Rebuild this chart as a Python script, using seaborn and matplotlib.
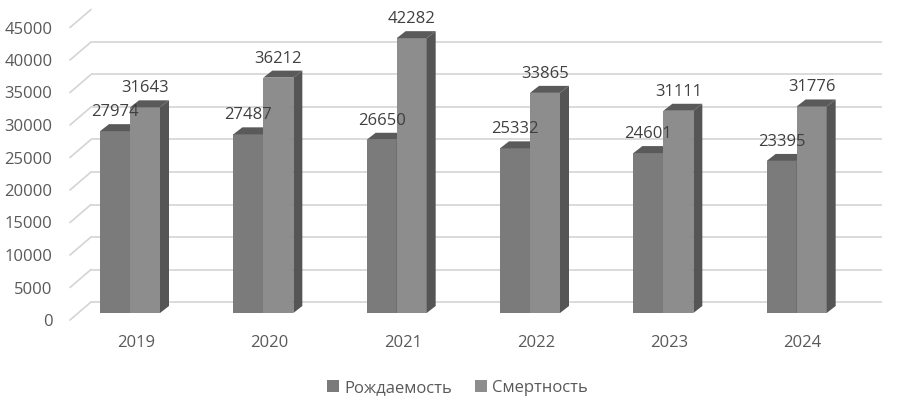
import numpy as np
import pandas as pd
import seaborn as sns
import matplotlib.pyplot as plt
from matplotlib.patches import Polygon, Patch
from matplotlib.lines import Line2D
from matplotlib.transforms import ScaledTranslation, IdentityTransform

years = ['2019', '2020', '2021', '2022', '2023', '2024']
births = [27974, 27487, 26650, 25332, 24601, 23395]
deaths = [31643, 36212, 42282, 33865, 31111, 31776]
series = ['Рождаемость', 'Смертность']
yticks = np.arange(0, 45001, 5000)

front_cols = ['#7b7b7b', '#8d8d8d']
top_col = '#5a5a5a'
side_col = '#555555'
grid_col = '#d4d4d4'
fs = 12

df = pd.DataFrame({
    'year': years * 2,
    'value': births + deaths,
    'series': [series[0]] * len(years) + [series[1]] * len(years),
})

sns.set_theme(style='white')
plt.rcParams['font.family'] = ['Open Sans', 'DejaVu Sans']

W, H = 915, 409
fig = plt.figure(figsize=(W / 100, H / 100), dpi=100)
ax = fig.add_axes([78 / W, 1 - 313 / H, (882 - 78) / W, (313 - 20.5) / H])

sns.barplot(df, x='year', y='value', hue='series', palette=front_cols,
            width=0.45, saturation=1, ax=ax, legend=False, linewidth=0)

xlim = (-0.39, 5.64)
ax.set_xlim(*xlim)
ax.set_ylim(0, 45000)
for s in ax.spines.values():
    s.set_visible(False)
ax.set_xlabel('')
ax.set_ylabel('')

def px(dx, dy):
    return ScaledTranslation(dx / 100, dy / 100, fig.dpi_scale_trans)

# back wall gridlines (pseudo 3d)
ax.hlines(yticks, xlim[0], xlim[1], colors=grid_col, lw=1.2,
          transform=ax.transData + px(13, 11), zorder=1)
T = ax.transData
for y in yticks:
    p = T.transform((xlim[0], y))
    ln = Line2D([p[0] - 8, p[0] + 13], [p[1] - 7, p[1] + 11], color=grid_col,
                lw=1.2, transform=IdentityTransform(), zorder=1)
    ln.set_clip_on(False)
    ax.add_line(ln)

# 3d faces for bars
n = len(years)
depth = np.array([9, 7])
values = births + deaths
for i, p in enumerate(ax.patches):
    z = 3 if i < n else 4
    p.set_zorder(z)
    x0, w, h = p.get_x(), p.get_width(), p.get_height()
    tl = T.transform((x0, h))
    tr = T.transform((x0 + w, h))
    br = T.transform((x0 + w, 0))
    top = Polygon([tl, tr, tr + depth, tl + depth], closed=True, facecolor=top_col,
                  edgecolor='none', transform=IdentityTransform(), zorder=z + 0.1)
    side = Polygon([tr, br, br + depth, tr + depth], closed=True, facecolor=side_col,
                   edgecolor='none', transform=IdentityTransform(), zorder=z + 0.1)
    for poly in (top, side):
        poly.set_clip_on(False)
        ax.add_patch(poly)
    ax.annotate(f'{values[i]}', (x0 + w / 2, h), xytext=(0, 13.7),
                textcoords='offset points', ha='center', va='center',
                fontsize=fs, color='#404040', zorder=6)

ax.set_yticks(yticks)
ax.tick_params(axis='y', length=0, pad=18.5, labelsize=fs, labelcolor='#595959')
ax.tick_params(axis='x', length=0, pad=16, labelsize=fs, labelcolor='#595959')
for lab in ax.get_yticklabels():
    lab.set_transform(lab.get_transform() + px(0, -7))
for lab in ax.get_xticklabels():
    lab.set_transform(lab.get_transform() + px(6, 0))

handles = [Patch(facecolor=c, edgecolor='none') for c in front_cols]
fig.legend(handles, series, loc='center', bbox_to_anchor=(0.5, 1 - 388 / H), ncol=2,
           frameon=False, handlelength=0.7, handleheight=0.7, handletextpad=0.3,
           columnspacing=1.4, fontsize=fs, labelcolor='#595959')

fig.savefig('out.png', dpi=100)
